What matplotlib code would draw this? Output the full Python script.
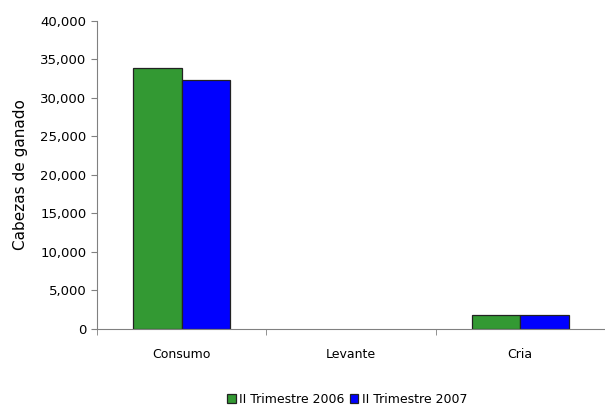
import matplotlib
matplotlib.use("Agg")
import matplotlib.pyplot as plt
import numpy as np
from matplotlib.ticker import FuncFormatter

categories = ["Consumo", "Levante", "Cria"]
series_names = ["II Trimestre 2006", "II Trimestre 2007"]
values_2006 = [33900, 0, 1850]
values_2007 = [32300, 0, 1850]
colors = ["#339933", "#0000FF"]

fig = plt.figure(figsize=(6.05, 4.08), dpi=100)
ax = fig.add_axes([0.160, 0.194, 0.840, 0.7545])

x = np.arange(len(categories))
w = 0.285
for vals, col, name, off in [(values_2006, colors[0], series_names[0], -w/2),
                             (values_2007, colors[1], series_names[1], w/2)]:
    lws = [0.9 if v > 0 else 0 for v in vals]
    ax.bar(x + off, vals, w, color=col, edgecolor="#222222", linewidth=lws, label=name)

ax.set_xlim(-0.5, 2.5)
ax.set_ylim(0, 40000)
ax.set_yticks(np.arange(0, 40001, 5000))
ax.yaxis.set_major_formatter(FuncFormatter(lambda v, p: f"{int(v):,}"))
ax.set_xticks(x)
ax.set_xticklabels(categories)
ax.set_xticks([-0.5, 0.5, 1.5, 2.5], minor=True)
ax.tick_params(axis="x", which="major", length=0, pad=14, labelsize=9)
ax.tick_params(axis="x", which="minor", length=4, direction="out", color="#808080")
ax.tick_params(axis="y", length=4, direction="out", color="#808080", labelsize=9.5)
for s in ["top", "right"]:
    ax.spines[s].set_visible(False)
for s in ["left", "bottom"]:
    ax.spines[s].set_color("#808080")
ax.set_ylabel("Cabezas de ganado", fontsize=11, labelpad=9)

fig.legend(loc="center", bbox_to_anchor=(0.574, 0.022), ncol=2, frameon=False,
           fontsize=9, handlelength=0.7, handleheight=0.7, handletextpad=0.3,
           columnspacing=0.4)

fig.savefig("out.png", dpi=100)
